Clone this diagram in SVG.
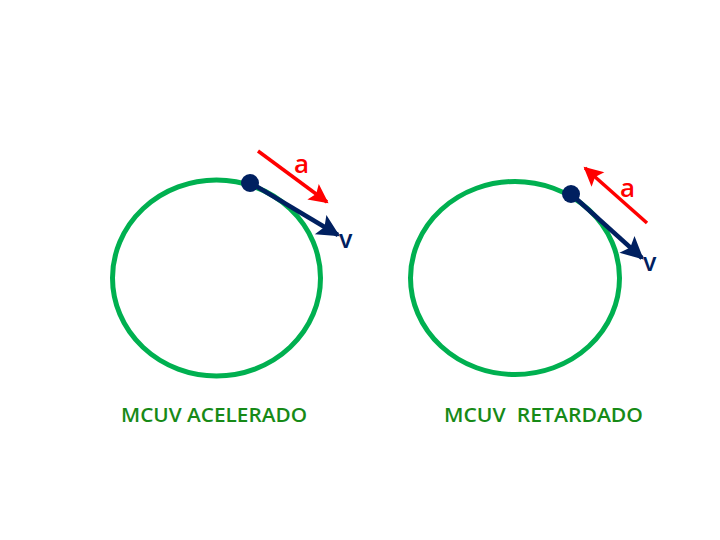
<svg xmlns="http://www.w3.org/2000/svg" width="720" height="540" viewBox="0 0 720 540">
<style>
.circ{fill:none;stroke:#00b050;stroke-width:5}
.v{stroke:#002060;stroke-width:4.5;fill:none}
.a{stroke:#ff0000;stroke-width:3.5;fill:none}
.lbl{font-family:"Open Sans","Liberation Sans",sans-serif;font-weight:600}
.title{font-family:"Open Sans","Liberation Sans",sans-serif;font-size:20px;font-weight:600;fill:#178a17}
</style>
<defs>
<marker id="mv" viewBox="0 0 10 10" refX="9" refY="5" markerWidth="5.5" markerHeight="5" orient="auto" markerUnits="strokeWidth"><path d="M0,0 L10,5 L0,10 L2,5 Z" fill="#002060"/></marker>
<marker id="ma" viewBox="0 0 10 10" refX="9" refY="5" markerWidth="6" markerHeight="5.5" orient="auto" markerUnits="strokeWidth"><path d="M0,0 L10,5 L0,10 L2,5 Z" fill="#ff0000"/></marker>
</defs>
<rect width="720" height="540" fill="#fff"/>
<g id="circle1"><ellipse class="circ" cx="216.5" cy="278" rx="104" ry="98"/></g>
<g id="circle2"><ellipse class="circ" cx="515" cy="278" rx="104.5" ry="96.5"/></g>
<g id="connectors">
<line class="v" x1="251" y1="183" x2="338" y2="235" marker-end="url(#mv)"/>
<line class="a" x1="258" y1="151" x2="327" y2="202" marker-end="url(#ma)"/>
<line class="v" x1="571" y1="194" x2="642" y2="258" marker-end="url(#mv)"/>
<line class="a" x1="647" y1="223" x2="585" y2="168" marker-end="url(#ma)"/>
</g>
<g id="dot1"><circle cx="250" cy="183" r="9" fill="#002060"/></g>
<g id="dot2"><circle cx="571" cy="194" r="9" fill="#002060"/></g>
<g id="labels">
<text class="lbl" x="294" y="173" font-size="26" fill="#ff0000">a</text>
<text class="lbl" x="339" y="248" font-size="25" fill="#002060">v</text>
<text class="lbl" x="620" y="197" font-size="26" fill="#ff0000">a</text>
<text class="lbl" x="643" y="271" font-size="25" fill="#002060">v</text>
</g>
<g id="title1"><text class="title" x="121" y="422" textLength="186" lengthAdjust="spacingAndGlyphs">MCUV ACELERADO</text></g>
<g id="title2"><text class="title" x="444" y="422" textLength="199" lengthAdjust="spacingAndGlyphs">MCUV&#160; RETARDADO</text></g>
</svg>
